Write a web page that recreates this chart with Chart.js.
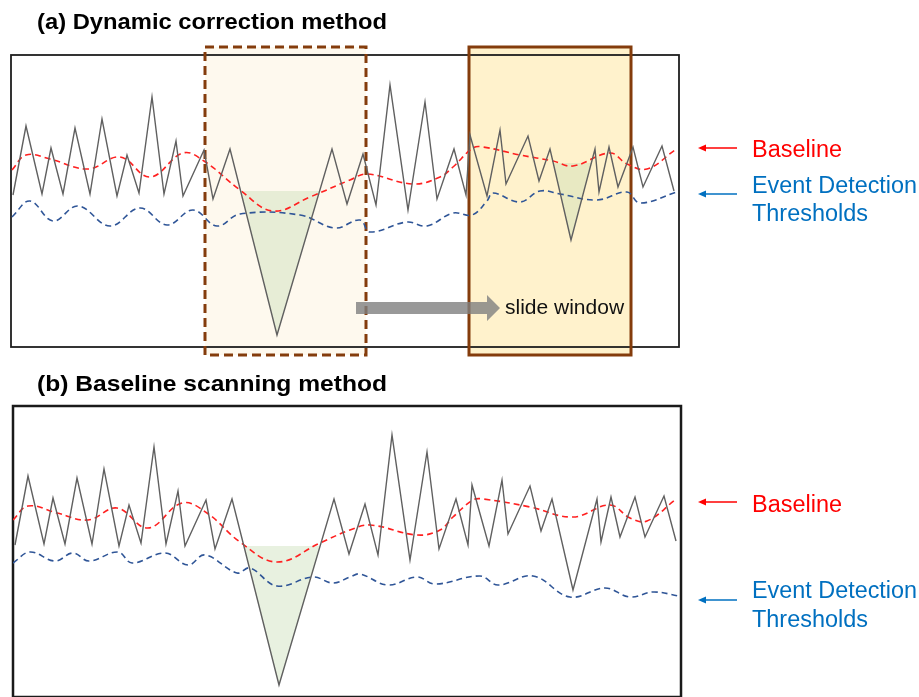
<!DOCTYPE html>
<html><head><meta charset="utf-8">
<script src="https://cdn.jsdelivr.net/npm/chart.js@4.4.1/dist/chart.umd.min.js"></script>
<style>
html,body{margin:0;padding:0;background:#fff;}
#wrap{position:relative;width:919px;height:697px;overflow:hidden;background:#fff;}
#ca{position:absolute;left:0;top:0;}
#cb{position:absolute;left:0;top:362px;}
</style></head><body>
<div id="wrap"><canvas id="ca" width="919" height="362"></canvas><canvas id="cb" width="919" height="335"></canvas></div>
<script>
// ---- data (time in arbitrary units, signal amplitude in arbitrary units) ----
const signalX = [2,15,31,40,52,64,79,91,106,116,128,141,153,165,172,193,202,219,266,321,336,352,365,379,397,414,426,443,455,459,476,489,495,517,528,539,560,584,588,598,607,622,632,651,663];
const signalY = [152,221,153,199,153,219,153,228,151,192,154,250,153,206,151,197,148,198,12,198,143,193,142,262,137,245,148,198,152,212,151,217,163,211,166,198,107,198,155,200,160,200,160,201,156];

const baseAX = [1,15,39,77,109,139,172,193,229,262,299,339,356,402,429,442,462,472,509,542,562,599,616,636,664];
const baseAY = [177,192,188,178,190,170,194,186,157,136,150,167,173,163,170,180,199,200,192,186,181,194,183,178,197];
const threshAX = [1,19,42,67,99,129,156,182,206,229,289,324,349,359,396,416,442,461,476,482,509,529,549,586,616,629,666];
const threshAY = [130,146,126,141,121,139,122,137,121,133,132,119,127,115,125,121,134,132,146,154,145,156,153,147,155,144,155];

const baseBX = [0,15,44,75,104,135,169,194,227,264,307,337,357,404,427,440,460,470,517,560,597,617,634,662];
const baseBY = [177,191,184,177,189,169,194,184,155,135,154,167,172,162,167,180,197,198,190,180,192,179,176,197];
const threshBX = [0,17,42,60,76,105,119,152,175,192,224,237,264,300,320,337,347,375,404,422,467,485,520,557,592,617,640,666];
const threshBY = [134,145,136,144,136,145,134,144,132,142,124,129,111,120,114,120,123,112,120,113,121,112,121,100,109,100,105,101];

// detected events: time span and detection level
const eventsA = [{from:219,to:321,level:156},{from:539,to:584,level:184}];
const eventsB = [{from:219,to:321,level:151}];

// sliding windows (panel a), in data units
const windowsA = [
  {x0:194,x1:355,y0:-8,y1:300,dashed:true},
  {x0:458,x1:620,y0:-8,y1:300,dashed:false}
];
const slideArrow = {x0:345,x1:489,y:39,label:'slide window'};

const titles = ['(a) Dynamic correction method','(b) Baseline scanning method'];
const labelBaseline = 'Baseline';
const labelThresh = ['Event Detection','Thresholds'];

// ---- helpers ----
const pts = (xs, ys) => xs.map((x,i)=>({x:x,y:ys[i]}));
const GREEN = 'rgba(200,222,180,0.42)';
function eventData(ev){
  return signalX.map((x,i)=>({x:x,y:signalY[i]})).filter(p=>p.x>=ev.from && p.x<=ev.to);
}
function makeDatasets(bx,by,tx,ty,events){
  const ds = [
    {data:pts(signalX,signalY),borderColor:'#606060',borderWidth:1.4,tension:0,pointRadius:0,fill:false},
    {data:pts(bx,by),borderColor:'#ff2020',borderWidth:1.6,borderDash:[6,4],tension:0.4,pointRadius:0,fill:false},
    {data:pts(tx,ty),borderColor:'#2f5597',borderWidth:1.6,borderDash:[6,4],tension:0.4,pointRadius:0,fill:false}
  ];
  events.forEach(ev=>{
    ds.push({data:eventData(ev),borderWidth:0,borderColor:'rgba(0,0,0,0)',tension:0,pointRadius:0,
      fill:{target:{value:ev.level},above:'rgba(0,0,0,0)',below:GREEN}});
  });
  return ds;
}
function leftArrow(ctx,xTip,xEnd,y,color){
  ctx.save();
  ctx.strokeStyle=color;ctx.fillStyle=color;ctx.lineWidth=1.6;
  ctx.beginPath();ctx.moveTo(xEnd,y);ctx.lineTo(xTip+6,y);ctx.stroke();
  ctx.beginPath();ctx.moveTo(xTip,y);ctx.lineTo(xTip+8,y-3.5);ctx.lineTo(xTip+8,y+3.5);ctx.closePath();ctx.fill();
  ctx.restore();
}
function fitText(ctx,text,x,y,w){
  const m=ctx.measureText(text).width;
  ctx.save();ctx.translate(x,y);ctx.scale(w/m,1);ctx.fillText(text,0,0);ctx.restore();
}
function sideLabels(chart,baseVal,threshVal,offs,dx){
  const ctx=chart.ctx, a=chart.chartArea, ys=chart.scales.y;
  const x0=a.right+19+dx, x1=a.right+58+dx, tx=a.right+73+dx;
  const yb=ys.getPixelForValue(baseVal), yt=ys.getPixelForValue(threshVal);
  leftArrow(ctx,x0,x1,yb,'#ff0000');
  leftArrow(ctx,x0,x1,yt,'#0070c0');
  ctx.save();
  ctx.font='23px "Liberation Sans", Arial, sans-serif';
  ctx.textBaseline='alphabetic';ctx.textAlign='left';
  ctx.fillStyle='#ff0000';fitText(ctx,labelBaseline,tx,yb+offs[0],90);
  ctx.fillStyle='#0070c0';fitText(ctx,labelThresh[0],tx,yt+offs[1],165);fitText(ctx,labelThresh[1],tx,yt+offs[2],116);
  ctx.restore();
}
function title(chart,text){
  const ctx=chart.ctx;
  ctx.save();ctx.font='bold 22px "Liberation Sans", Arial, sans-serif';
  ctx.fillStyle='#000';ctx.textBaseline='alphabetic';ctx.textAlign='left';
  const w=ctx.measureText(text).width;
  ctx.translate(37,29);ctx.scale(350/w,1);ctx.fillText(text,0,0);
  ctx.restore();
}
function drawBox(chart,lw,color){
  const ctx=chart.ctx,a=chart.chartArea;
  ctx.save();ctx.strokeStyle=color;ctx.lineWidth=lw;
  ctx.strokeRect(a.left,a.top,a.right-a.left,a.bottom-a.top);ctx.restore();
}

const plugA = {
  id:'panelA',
  beforeDatasetsDraw(chart){
    const ctx=chart.ctx,xs=chart.scales.x,ys=chart.scales.y;
    windowsA.forEach(w=>{
      const l=xs.getPixelForValue(w.x0),r=xs.getPixelForValue(w.x1),t=ys.getPixelForValue(w.y1),b=ys.getPixelForValue(w.y0);
      ctx.save();ctx.fillStyle=w.dashed?'#fef9ee':'#fff2cc';ctx.fillRect(l,t,r-l,b-t);ctx.restore();
    });
    drawBox(chart,1.8,'#1e1e1e');
    windowsA.forEach(w=>{
      const l=xs.getPixelForValue(w.x0),r=xs.getPixelForValue(w.x1),t=ys.getPixelForValue(w.y1),b=ys.getPixelForValue(w.y0);
      ctx.save();ctx.strokeStyle='#843c0c';ctx.lineWidth=3;
      if(w.dashed) ctx.setLineDash([9,5]);
      ctx.strokeRect(l,t,r-l,b-t);ctx.restore();
    });
  },
  afterDatasetsDraw(chart){
    const ctx=chart.ctx,xs=chart.scales.x,ys=chart.scales.y;
    const x0=xs.getPixelForValue(slideArrow.x0),x1=xs.getPixelForValue(slideArrow.x1),y=ys.getPixelForValue(slideArrow.y);
    ctx.save();ctx.fillStyle='rgba(128,128,128,0.8)';
    ctx.beginPath();
    ctx.moveTo(x0,y-6);ctx.lineTo(x1-13,y-6);ctx.lineTo(x1-13,y-13);ctx.lineTo(x1,y);
    ctx.lineTo(x1-13,y+13);ctx.lineTo(x1-13,y+6);ctx.lineTo(x0,y+6);ctx.closePath();ctx.fill();
    ctx.font='21px "Liberation Sans", Arial, sans-serif';ctx.fillStyle='#111';ctx.textBaseline='alphabetic';
    ctx.fillText(slideArrow.label,x1+5,y+6);
    ctx.restore();
    sideLabels(chart,199,153,[9,-1,27],0);
    title(chart,titles[0]);
  }
};
const plugB = {
  id:'panelB',
  beforeDatasetsDraw(chart){ drawBox(chart,2.5,'#1a1a1a'); },
  afterDatasetsDraw(chart){
    sideLabels(chart,195,97,[10,-2,27],-2);
    title(chart,titles[1]);
  }
};

const commonOpts = (pad,ymax)=>({
  responsive:false,animation:false,
  layout:{padding:pad},
  plugins:{legend:{display:false},tooltip:{enabled:false}},
  scales:{
    x:{type:'linear',min:0,max:668,display:false},
    y:{type:'linear',min:0,max:ymax,display:false}
  }
});

new Chart(document.getElementById('ca'),{
  type:'line',
  data:{datasets:makeDatasets(baseAX,baseAY,threshAX,threshAY,eventsA)},
  options:commonOpts({left:11,right:240,top:55,bottom:15},292),
  plugins:[plugA]
});
new Chart(document.getElementById('cb'),{
  type:'line',
  data:{datasets:makeDatasets(baseBX,baseBY,threshBX,threshBY,eventsB)},
  options:commonOpts({left:13,right:238,top:44,bottom:0},291),
  plugins:[plugB]
});
</script>
</body></html>
